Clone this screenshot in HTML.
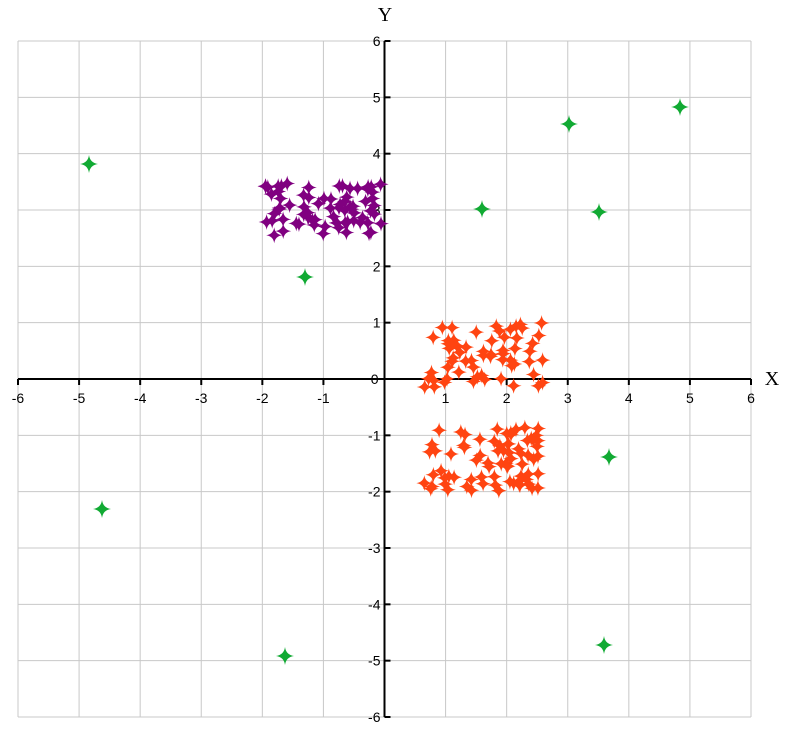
<!DOCTYPE html>
<html><head><meta charset="utf-8"><style>
html,body{margin:0;padding:0;background:#fff;}
svg{display:block;}
text{font-family:"Liberation Sans",sans-serif;font-size:14px;fill:#000;}
</style></head><body>
<svg id="s" width="792" height="733" xmlns="http://www.w3.org/2000/svg"></svg>
<script>
const s=document.getElementById('s');
const X0=18,X1=751,Y0=41,Y1=717;
const px=v=>X0+(v+6)*(X1-X0)/12, py=v=>Y0+(6-v)*(Y1-Y0)/12;
let h='';
for(let i=-6;i<=6;i++){
  h+=`<line x1="${px(i)}" y1="${Y0}" x2="${px(i)}" y2="${Y1}" stroke="#c8c8c8" stroke-width="1"/>`;
  h+=`<line x1="${X0}" y1="${py(i)}" x2="${X1}" y2="${py(i)}" stroke="#c8c8c8" stroke-width="1"/>`;
}
const ox=px(0),oy=py(0);
h+=`<line x1="${X0}" y1="${oy}" x2="${X1}" y2="${oy}" stroke="#000" stroke-width="2"/>`;
h+=`<line x1="${ox}" y1="${Y0}" x2="${ox}" y2="${Y1}" stroke="#000" stroke-width="2"/>`;
for(let i=-6;i<=6;i++){
  h+=`<line x1="${px(i)}" y1="${oy}" x2="${px(i)}" y2="${oy+6}" stroke="#000" stroke-width="2"/>`;
  h+=`<line x1="${ox}" y1="${py(i)}" x2="${ox+6}" y2="${py(i)}" stroke="#000" stroke-width="2"/>`;
  if(i!==0){
    h+=`<text x="${px(i)}" y="${oy+24}" text-anchor="middle">${i}</text>`;
    h+=`<text x="${ox-4}" y="${py(i)+5}" text-anchor="end">${i}</text>`;
  } else {
    h+=`<text x="${ox-6}" y="${oy+5}" text-anchor="end">0</text>`;
  }
}
h+=`<text x="385" y="21" text-anchor="middle" style="font-family:'Liberation Serif',serif;font-size:20px">Y</text>`;
h+=`<text x="772" y="385" text-anchor="middle" style="font-family:'Liberation Serif',serif;font-size:20px">X</text>`;
function star(x,y,c,r){r=r||9;const q=r*0.12;
  return `<path d="M${x},${y-r} Q${x+q},${y-q} ${x+r},${y} Q${x+q},${y+q} ${x},${y+r} Q${x-q},${y+q} ${x-r},${y} Q${x-q},${y-q} ${x},${y-r}Z" fill="${c}"/>`;}
let seed=7;const rnd=()=>{seed=(seed*16807)%2147483647;return seed/2147483647;};
for(let i=0;i<75;i++){h+=star(px(-1.95+rnd()*1.9),py(2.55+rnd()*0.95),'#800080',8);}
for(let i=0;i<60;i++){h+=star(px(0.65+rnd()*1.95),py(-0.15+rnd()*1.15),'#ff4411',8);}
for(let i=0;i<75;i++){h+=star(px(0.65+rnd()*1.95),py(-2.0+rnd()*1.15),'#ff4411',8);}
[[89,164],[305,277],[482,209],[569,124],[599,212],[680,107],[609,457],[102,509],[285,656],[604,645]].forEach(p=>h+=star(p[0],p[1],'#11aa33',9));
s.innerHTML=h;
</script>
</body></html>
